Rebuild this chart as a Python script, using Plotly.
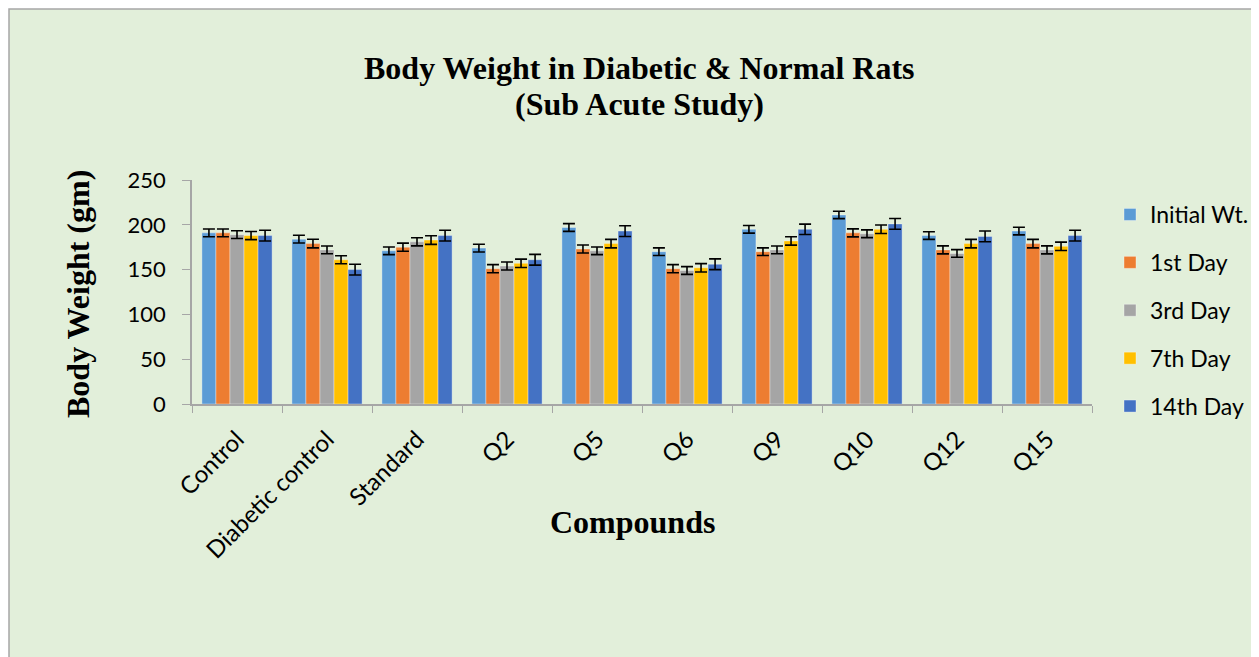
import plotly.graph_objects as go

categories = ["Control", "Diabetic control", "Standard", "Q2", "Q5", "Q6", "Q9", "Q10", "Q12", "Q15"]
series_names = ["Initial Wt.", "1st Day", "3rd Day", "7th Day", "14th Day"]

initial_wt = [191, 184, 171, 174, 197, 170, 195, 211, 188, 193]
day_1 = [191, 179, 175, 151, 173, 151, 170, 191, 172, 179]
day_3 = [189, 172, 181, 154, 171, 149, 172, 190, 168, 172]
day_7 = [188, 161, 183, 157, 179, 152, 182, 195, 179, 176]
day_14 = [188, 150, 188, 161, 193, 156, 195, 201, 187, 188]

err_initial = [4.3, 4.3, 4.3, 4.3, 4.3, 4.3, 4.3, 4.1, 4.3, 4.3]
err_day_1 = [4.3, 4.8, 4.5, 4.5, 4.5, 4.5, 4.3, 4.5, 4.5, 4.7]
err_day_3 = [4.3, 4.3, 4.5, 4.5, 4.3, 4.3, 4.3, 4.3, 4.3, 4.5]
err_day_7 = [4.5, 4.5, 4.8, 4.7, 4.7, 4.7, 4.7, 4.7, 4.7, 4.7]
err_day_14 = [6.0, 6.0, 6.0, 6.0, 6.0, 6.0, 5.8, 6.0, 6.0, 6.0]

colors = ["#5B9BD5", "#ED7D31", "#A5A5A5", "#FFC000", "#4472C4"]
values = [initial_wt, day_1, day_3, day_7, day_14]
errors = [err_initial, err_day_1, err_day_3, err_day_7, err_day_14]

fig = go.Figure()
for name, vals, errs, col in zip(series_names, values, errors, colors):
    fig.add_trace(go.Bar(
        x=categories, y=vals, name=name, legendgroup=name,
        marker=dict(color=col, line=dict(color="rgba(255,255,255,0.35)", width=1)),
        error_y=dict(type="data", array=errs, color="black", thickness=1.6, width=6),
    ))

# page offset introduced by the default body margin
OFF = 8
FW, FH = 1259 - OFF, 657 - OFF
L, R, T, B = 192 - OFF, 1092 - OFF, 180 - OFF, 404 - OFF
W, H = R - L, B - T

def px_x(p):
    return (p - OFF - L) / W

def px_y(p):
    return (B - (p - OFF)) / H

serif = "Liberation Serif, Times New Roman, serif"
sans = "Lato, Calibri, sans-serif"

fig.update_layout(
    width=FW, height=FH,
    margin=dict(l=L, r=FW - R, t=T, b=FH - B, pad=0, autoexpand=False),
    paper_bgcolor="white",
    plot_bgcolor="rgba(0,0,0,0)",
    barmode="group", bargap=0.22, bargroupgap=0,
    showlegend=True,
    legend=dict(
        x=px_x(1110), y=px_y(193), xanchor="left", yanchor="top",
        font=dict(family=sans, size=23, color="black"),
        bgcolor="rgba(0,0,0,0)", tracegroupgap=15, traceorder="grouped",
        itemwidth=30, maxheight=400,
    ),
    xaxis=dict(
        type="category", tickson="boundaries", ticks="outside", ticklen=7,
        tickcolor="#A6A6A6", showline=True, linecolor="#A6A6A6", linewidth=1.5,
        tickangle=-45, tickfont=dict(family=sans, size=24, color="black"),
        ticklabelstandoff=10,
        showgrid=False, zeroline=False,
    ),
    yaxis=dict(
        range=[0, 250], dtick=50, ticks="outside", ticklen=8,
        tickcolor="#A6A6A6", showline=True, linecolor="#A6A6A6", linewidth=1.5,
        tickfont=dict(family=sans, size=22, color="black"),
        ticklabelstandoff=12,
        showgrid=False, zeroline=False,
    ),
    shapes=[dict(
        type="rect", xref="paper", yref="paper", layer="below",
        x0=px_x(9), y0=px_y(700), x1=px_x(1300), y1=px_y(9),
        fillcolor="#E2EFDA", line=dict(color="#A6A6A6", width=1.5),
    )],
    annotations=[
        dict(text="<b>Body Weight in Diabetic &amp; Normal Rats</b>",
             xref="paper", yref="paper", x=px_x(639), y=px_y(68),
             xanchor="center", yanchor="middle", showarrow=False,
             font=dict(family=serif, size=32, color="black")),
        dict(text="<b>(Sub Acute Study)</b>",
             xref="paper", yref="paper", x=px_x(639), y=px_y(104),
             xanchor="center", yanchor="middle", showarrow=False,
             font=dict(family=serif, size=32, color="black")),
        dict(text="<b>Body Weight (gm)</b>", xref="paper", yref="paper",
             x=px_x(78), y=px_y(294), xanchor="center", yanchor="middle",
             textangle=-90, showarrow=False,
             font=dict(family=serif, size=32, color="black")),
        dict(text="<b>Compounds</b>", xref="paper", yref="paper",
             x=px_x(632), y=px_y(522), xanchor="center", yanchor="middle",
             showarrow=False, font=dict(family=serif, size=32, color="black")),
    ],
)

fig.write_html("out.html")
